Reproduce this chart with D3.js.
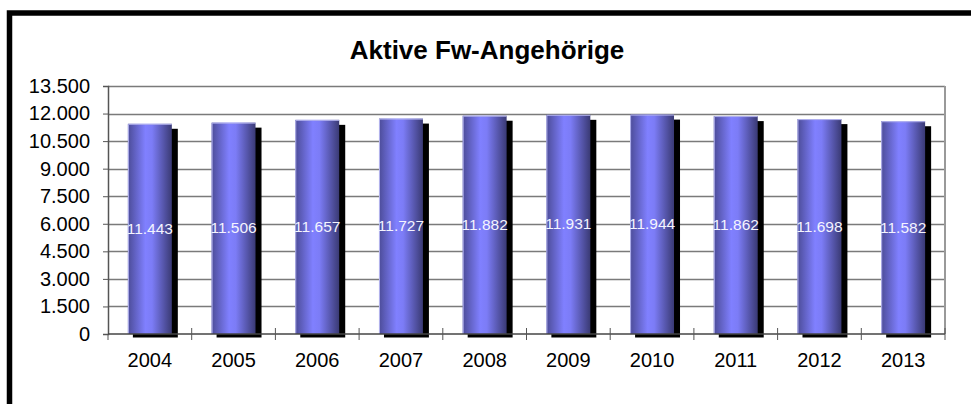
<!DOCTYPE html>
<html>
<head>
<meta charset="utf-8">
<script src="https://cdn.jsdelivr.net/npm/d3@7"></script>
<style>
  body{margin:0;background:#fff;}
  svg text{font-family:"Liberation Sans",Arial,Helvetica,sans-serif;}
</style>
</head>
<body>
<svg id="chart" width="971" height="404"></svg>
<script>
var years=["2004","2005","2006","2007","2008","2009","2010","2011","2012","2013"];
var members=[11443,11506,11657,11727,11882,11931,11944,11862,11698,11582];
var yTicks=[0,1500,3000,4500,6000,7500,9000,10500,12000,13500];
var title="Aktive Fw-Angehörige";

var chart=(function(){
    var svg=d3.select("#chart");
    var plotL=108, plotR=945, plotT=86, plotB=334;

    // outer frame (runs off the right and bottom edge)
    svg.append("rect")
        .attr("x",9.5).attr("y",13)
        .attr("width",1100).attr("height",600)
        .attr("fill","none")
        .attr("stroke","#000")
        .attr("stroke-width",5.5);

    svg.append("text")
        .attr("x",487).attr("y",59)
        .attr("text-anchor","middle")
        .attr("font-size",26)
        .attr("font-weight","bold")
        .text(title);

    var x=d3.scaleBand().domain(years).range([plotL,plotR]);
    var y=d3.scaleLinear().domain([0,13500]).range([plotB,plotT]);

    // cylinder-like gradient
    var grad=svg.append("defs").append("linearGradient")
        .attr("id","barGrad").attr("x1","0").attr("x2","1").attr("y1","0").attr("y2","0");
    grad.append("stop").attr("offset","0%").attr("stop-color","#4c4c98");
    grad.append("stop").attr("offset","40%").attr("stop-color","#8080ff");
    grad.append("stop").attr("offset","55%").attr("stop-color","#7c7cf6");
    grad.append("stop").attr("offset","100%").attr("stop-color","#3a3a74");

    // gridlines
    svg.append("g").selectAll("line").data(yTicks.slice(1)).enter().append("line")
        .attr("x1",plotL).attr("x2",plotR)
        .attr("y1",function(d){return Math.round(y(d))+0.5;})
        .attr("y2",function(d){return Math.round(y(d))+0.5;})
        .attr("stroke","#7a7a7a")
        .attr("stroke-width",1.3);

    // right border of the plot area
    svg.append("line")
        .attr("x1",plotR).attr("x2",plotR)
        .attr("y1",plotT).attr("y2",plotB)
        .attr("stroke","#999").attr("stroke-width",2);

    var barW=x.bandwidth()*0.525;
    function barX(d){return x(d)+(x.bandwidth()-barW)/2;}

    // shadows
    svg.append("g").selectAll("rect").data(members).enter().append("rect")
        .attr("x",function(d,i){return barX(years[i])+5;})
        .attr("y",function(d){return y(d)+5;})
        .attr("width",barW+1)
        .attr("height",function(d){return plotB+3.5-(y(d)+5);})
        .attr("fill","#000");

    // bars
    svg.append("g").selectAll("rect").data(members).enter().append("rect")
        .attr("x",function(d,i){return barX(years[i]);})
        .attr("y",function(d){return y(d);})
        .attr("width",barW)
        .attr("height",function(d){return plotB-y(d);})
        .attr("fill","url(#barGrad)");

    // light top and left edge of each bar
    svg.append("g").selectAll("path").data(members).enter().append("path")
        .attr("d",function(d,i){
            var bx=barX(years[i]), by=y(d);
            return "M"+(bx+0.5)+","+plotB+"V"+(by+0.5)+"H"+(bx+barW);
        })
        .attr("fill","none")
        .attr("stroke","#b4b4ee")
        .attr("stroke-width",1);

    // value labels in the middle of each bar
    var fmt=d3.format(",");
    function de(d){return fmt(d).replace(/,/g,".");}
    svg.append("g").selectAll("text").data(members).enter().append("text")
        .attr("x",function(d,i){return x(years[i])+x.bandwidth()/2;})
        .attr("y",function(d){return (y(d)+plotB)/2+5;})
        .attr("text-anchor","middle")
        .attr("font-size",15.5)
        .attr("fill","#f4f4ff")
        .text(de);

    // y axis
    var yAxis=d3.axisLeft(y).tickValues(yTicks).tickSize(5).tickPadding(13).tickFormat(de);
    var gy=svg.append("g").attr("transform","translate("+plotL+",0)").call(yAxis);
    gy.select(".domain").attr("stroke","#555").attr("stroke-width",1.5);
    gy.selectAll(".tick line").attr("stroke","#555");
    gy.selectAll("text").attr("font-size",20).attr("fill","#000")
        .attr("font-family","Liberation Sans,Arial,sans-serif");

    // x axis baseline
    svg.append("line")
        .attr("x1",plotL).attr("x2",plotR)
        .attr("y1",plotB).attr("y2",plotB)
        .attr("stroke","#444").attr("stroke-width",1.5);

    // x ticks at category boundaries, crossing the axis
    var bounds=years.map(function(d){return x(d);}).concat([plotR]);
    svg.append("g").selectAll("line").data(bounds).enter().append("line")
        .attr("x1",function(d){return d;}).attr("x2",function(d){return d;})
        .attr("y1",function(d,i){return i==0?plotB:plotB-6;})
        .attr("y2",plotB+6)
        .attr("stroke","#555");

    svg.append("g").selectAll("text").data(years).enter().append("text")
        .attr("x",function(d){return x(d)+x.bandwidth()/2;})
        .attr("y",367)
        .attr("text-anchor","middle")
        .attr("font-size",20)
        .text(function(d){return d;});
    return svg;
})();
</script>
</body>
</html>
